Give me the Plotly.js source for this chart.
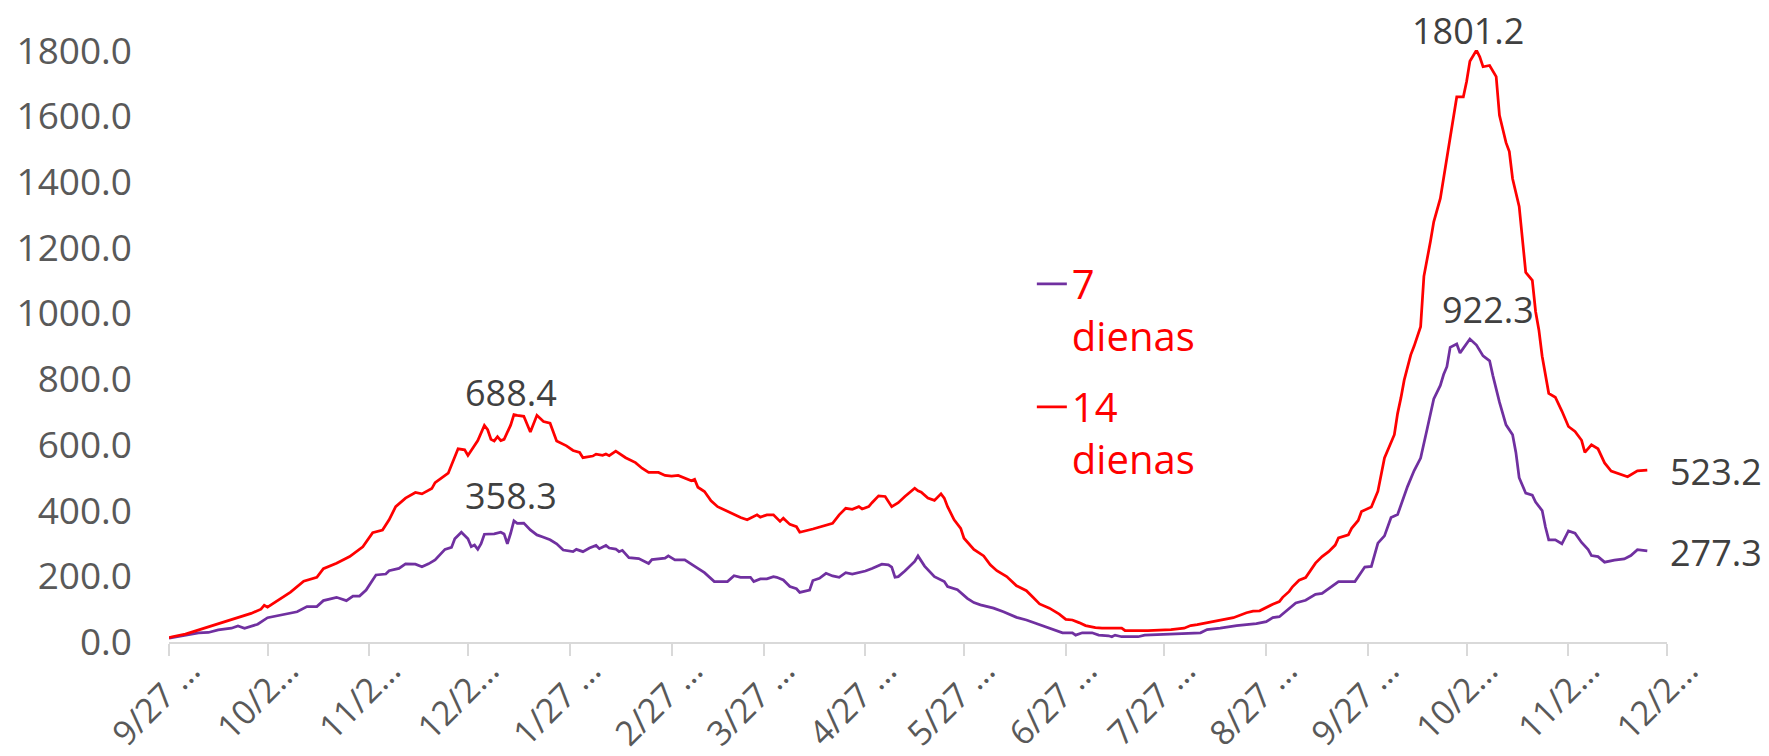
<!DOCTYPE html>
<html><head><meta charset="utf-8">
<script src="https://cdn.plot.ly/plotly-3.0.1.min.js"></script>
<style>html,body{margin:0;padding:0;background:#fff;} #chart{width:1769px;height:756px;}</style>
</head><body><div id="chart"></div>
<script>
// day offsets from 2020-09-27
const redDays = [0,1,5,9,13,17,21,25,28,29,30,33,37,41,45,47,51,55,59,62,65,67,69,72,75,77,80,81,85,86,88,90,91,94,96,97,98,99,100,101,102,104,105,106,108,110,112,114,116,118,121,123,125,126,129,130,132,133,134,136,139,142,144,146,149,151,153,155,157,159,160,161,163,165,167,169,171,174,176,179,180,182,184,186,187,189,191,192,196,199,201,202,204,206,208,210,211,213,214,216,218,220,222,224,227,228,229,231,233,235,236,237,239,241,242,245,248,250,252,255,258,261,263,265,268,271,273,275,277,279,282,284,290,291,298,305,309,311,313,316,320,324,328,330,332,334,336,338,339,341,342,344,346,349,351,353,355,356,359,360,362,363,366,368,369,370,373,374,375,376,378,379,381,382,384,385,387,388,390,392,394,395,396,398,399,400,402,404,405,407,408,409,411,412,413,415,416,417,418,420,422,424,426,428,430,431,433,435,437,439,441,444,447,450];
const redVals = [13,16,24,37,50,62,74,87,100,112,106,126,152,185,197,223,240,260,290,333,341,372,412,438,455,451,467,485,514,539,588,585,568,613,659,646,617,612,625,613,617,660,692,690,687,639,690,671,666,612,597,583,577,561,566,572,568,572,567,581,561,546,529,516,516,507,505,507,500,491,495,471,458,430,412,402,394,379,372,387,380,387,387,367,377,358,351,334,344,353,359,361,387,407,404,412,405,412,424,445,443,412,424,443,468,460,456,438,431,451,438,412,372,346,316,282,262,235,217,199,171,156,136,116,103,85,69,67,59,50,44,42,42,35,35,38,42,50,53,59,68,74,89,94,95,106,115,123,136,154,168,188,196,240,260,275,295,317,326,346,370,397,411,459,506,560,631,696,743,797,874,900,960,1113,1220,1279,1350,1410,1540,1659,1659,1706,1768,1801.2,1781,1751,1755,1721,1603,1520,1493,1410,1326,1231,1125,1101,1006,950,870,757,745,703,656,641,614,577,600,588,545,520,513,503,521,523.2];
const purpleDays = [0,1,5,9,12,15,19,21,23,27,30,33,36,39,42,45,47,51,54,56,58,60,62,63,66,67,70,72,75,77,79,81,84,86,87,89,91,92,93,94,95,96,99,101,102,103,104,105,106,108,110,112,114,116,118,120,123,124,126,128,130,131,133,134,136,137,138,140,143,146,147,151,152,154,157,159,161,163,165,166,170,172,174,177,178,180,182,184,185,187,189,191,192,195,196,198,200,202,204,206,208,210,212,214,217,219,220,221,222,224,227,228,230,233,236,237,240,243,245,247,251,254,258,261,264,268,272,275,276,278,281,283,286,287,288,290,295,297,303,306,314,316,320,325,331,334,336,338,341,343,346,349,351,353,356,361,362,364,366,368,370,372,374,377,379,381,383,385,387,388,389,390,392,393,396,398,400,402,403,405,407,409,410,411,413,415,416,418,419,420,422,424,426,428,430,432,433,435,437,439,440,443,445,447,450];
const purpleVals = [12,14,21,28,29,37,42,49,42,54,74,80,87,92,108,108,126,136,126,140,140,158,189,204,207,217,224,238,237,229,238,250,282,288,314,334,314,290,295,282,299,328,329,334,329,299,331,369,361,362,341,326,319,311,299,280,275,282,275,286,294,284,294,286,283,275,279,257,254,239,251,255,262,250,250,238,224,211,191,184,184,202,197,197,184,192,192,199,197,189,169,162,151,158,187,194,209,201,197,211,207,211,216,224,237,235,228,197,199,216,245,262,231,199,184,169,159,133,120,113,103,92,75,67,57,42,28,28,21,28,28,21,19,16,21,16,16,21,23,26,28,38,42,50,56,62,74,77,101,119,127,145,148,163,184,184,200,228,230,301,323,379,388,473,521,560,649,740,781,814,838,897,907,880,922.3,904,871,856,811,730,661,631,577,500,453,447,426,400,350,311,311,299,338,331,303,281,263,260,243,248,249,253,263,281,277.3];

const seriesNames = ['7<br>dienas', '14<br>dienas'];
const tickDates = ['2020-09-27','2020-10-27','2020-11-27','2020-12-27','2021-01-27','2021-02-27','2021-03-27','2021-04-27','2021-05-27','2021-06-27','2021-07-27','2021-08-27','2021-09-27','2021-10-27','2021-11-27','2021-12-27'];
const tickLabels = ['9/27 …','10/2…','11/2…','12/2…','1/27 …','2/27 …','3/27 …','4/27 …','5/27 …','6/27 …','7/27 …','8/27 …','9/27 …','10/2…','11/2…','12/2…'];
const yTicks = [0,200,400,600,800,1000,1200,1400,1600,1800];
// data labels: text, series, anchor day
const labelTexts = ['688.4','358.3','1801.2','922.3','523.2','277.3'];
const labelSeries = ['red','purple','red','purple','red','purple'];
const labelDays = [105,105,398,396,450,450];

function toDate(d){
  const t = new Date(Date.UTC(2020,8,27));
  t.setUTCDate(t.getUTCDate()+d);
  return t.toISOString().slice(0,10);
}
const redX = redDays.map(toDate);
const purpleX = purpleDays.map(toDate);

const FONT = '"Open Sans", "Noto Sans", sans-serif';

const traces = [
  {x: purpleX, y: purpleVals, type:'scatter', mode:'lines', name: seriesNames[0], legendgroup:'a',
   line:{color:'#7030A0', width:2.75}, cliponaxis:false, hoverinfo:'skip'},
  {x: redX, y: redVals, type:'scatter', mode:'lines', name: seriesNames[1], legendgroup:'b',
   line:{color:'#FF0000', width:2.75}, cliponaxis:false, hoverinfo:'skip'}
];

const shifts = [[-3,22,'center'],[-3,25,'center'],[-8,20,'center'],[18,30,'center'],[21,-1,'left'],[21,-1.5,'left']];
const annotations = labelTexts.map((t,i)=>{
  const days = labelSeries[i]==='red' ? redDays : purpleDays;
  const vals = labelSeries[i]==='red' ? redVals : purpleVals;
  const k = days.indexOf(labelDays[i]);
  return {x: toDate(days[k]), y: vals[k], xref:'x', yref:'y', text: t, showarrow:false,
    xanchor: shifts[i][2], yanchor:'middle', xshift: shifts[i][0], yshift: shifts[i][1],
    font:{family:FONT, size:36, color:'#404040'}};
});

const layout = {
  width:1769, height:756,
  margin:{l:169, r:102, t:50, b:114},
  paper_bgcolor:'#fff', plot_bgcolor:'#fff',
  showlegend:true,
  legend:{x:0.576, y:0.66, xanchor:'left', yanchor:'top', valign:'top', tracegroupgap:16,
    font:{family:FONT, size:40, color:'#FF0000'}, bgcolor:'rgba(0,0,0,0)'},
  xaxis:{type:'date', range:['2020-09-27','2021-12-27'], tickmode:'array', tickvals:tickDates, ticktext:tickLabels,
    tickangle:-45, showgrid:false, zeroline:false, showline:true, linecolor:'#D9D9D9', linewidth:2,
    ticks:'outside', ticklen:12, tickwidth:2, tickcolor:'#D9D9D9',
    ticklabelshift:21, ticklabelstandoff:-19,
    tickfont:{family:FONT, size:34, color:'#595959'}},
  yaxis:{range:[0,1802], tickmode:'array', tickvals:yTicks, tickformat:'.1f', showgrid:false, zeroline:false,
    showline:false, ticks:'', ticklabelstandoff:36,
    tickfont:{family:FONT, size:37, color:'#595959'}},
  annotations: annotations
};

Plotly.newPlot('chart', traces, layout, {displayModeBar:false, staticPlot:true});
</script></body></html>
